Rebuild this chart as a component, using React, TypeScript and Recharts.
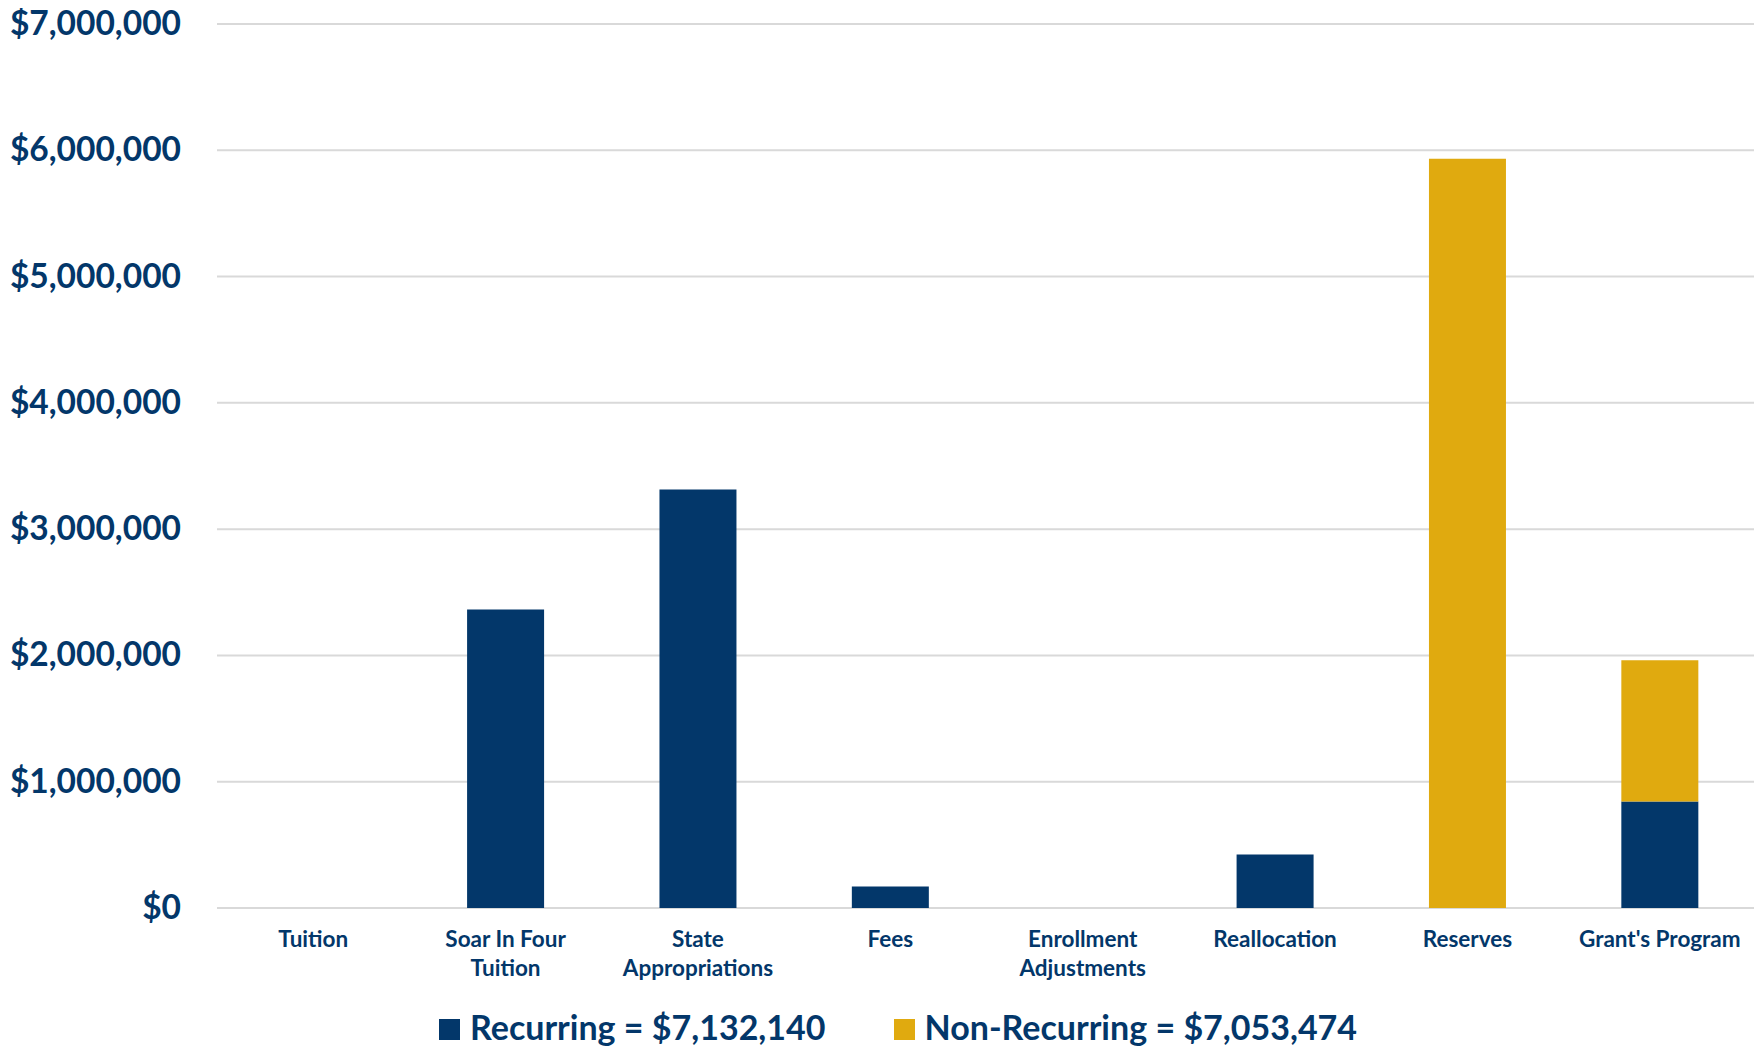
import React from "react";
import { BarChart, Bar, XAxis, YAxis, CartesianGrid } from "recharts";

const categories = [
  "Tuition",
  "Soar In Four\nTuition",
  "State\nAppropriations",
  "Fees",
  "Enrollment\nAdjustments",
  "Reallocation",
  "Reserves",
  "Grant's Program",
];
const recurring = [0, 2364000, 3314000, 170000, 0, 424000, 0, 843000];
const nonRecurring = [0, 0, 0, 0, 0, 0, 5933000, 1119000];
const yTicks = [0, 1000000, 2000000, 3000000, 4000000, 5000000, 6000000, 7000000];
const legendItems = [
  { label: "Recurring = $7,132,140", color: "#03376A" },
  { label: "Non-Recurring = $7,053,474", color: "#E0AA0F" },
];

const data = categories.map((name, i) => ({
  name,
  recurring: recurring[i],
  nonRecurring: nonRecurring[i],
}));

const NAVY = "#03376A";
const FONT = "Lato, 'Open Sans', sans-serif";

const fmt = (v: number) => "$" + v.toLocaleString("en-US");

const XTick = (props: any) => {
  const { x, y, payload } = props;
  const lines = String(payload.value).split("\n");
  return (
    <text
      x={x}
      y={y + 39}
      textAnchor="middle"
      fill={NAVY}
      fontFamily={FONT}
      fontWeight={700}
      fontSize={22.5}
    >
      {lines.map((l, i) => (
        <tspan key={i} x={x} dy={i === 0 ? 0 : 29}>
          {l}
        </tspan>
      ))}
    </text>
  );
};

const YTick = (props: any) => {
  const { y, payload } = props;
  return (
    <text
      x={181}
      y={y + 11}
      textAnchor="end"
      fill={NAVY}
      fontFamily={FONT}
      fontWeight={700}
      fontSize={33.5}
    >
      {fmt(payload.value)}
    </text>
  );
};

export default function App() {
  return (
    <div style={{ position: "relative", width: 1762, height: 1047, marginTop: -8, marginLeft: -8 }}>
      <BarChart
        width={1762}
        height={1047}
        data={data}
        margin={{ top: 24, right: 6, bottom: 0, left: 0 }}
        barCategoryGap="30%"
      >
        <CartesianGrid vertical={false} stroke="#D9D9D9" strokeWidth={2} />
        <XAxis
          dataKey="name"
          axisLine={false}
          tickLine={false}
          tickSize={0}
          tickMargin={0}
          height={139}
          interval={0}
          tick={<XTick />}
        />
        <YAxis
          domain={[0, 7000000]}
          ticks={yTicks}
          axisLine={false}
          tickLine={false}
          width={217}
          tick={<YTick />}
          interval={0}
        />
        <Bar dataKey="recurring" stackId="a" fill={NAVY} isAnimationActive={false} />
        <Bar dataKey="nonRecurring" stackId="a" fill="#E0AA0F" isAnimationActive={false} />
      </BarChart>
      <div
        style={{
          position: "absolute",
          top: 1006,
          left: 439,
          display: "flex",
          alignItems: "center",
          fontFamily: FONT,
          fontWeight: 700,
          fontSize: 34,
          color: NAVY,
          whiteSpace: "nowrap",
          lineHeight: "42px",
        }}
      >
        {legendItems.map((it, i) => (
          <div
            key={i}
            style={{ display: "flex", alignItems: "center", marginRight: i === 0 ? 68 : 0 }}
          >
            <span
              style={{
                display: "inline-block",
                width: 21,
                height: 21,
                background: it.color,
                marginRight: 10,
                marginTop: 5,
              }}
            />
            <span>{it.label}</span>
          </div>
        ))}
      </div>
    </div>
  );
}
